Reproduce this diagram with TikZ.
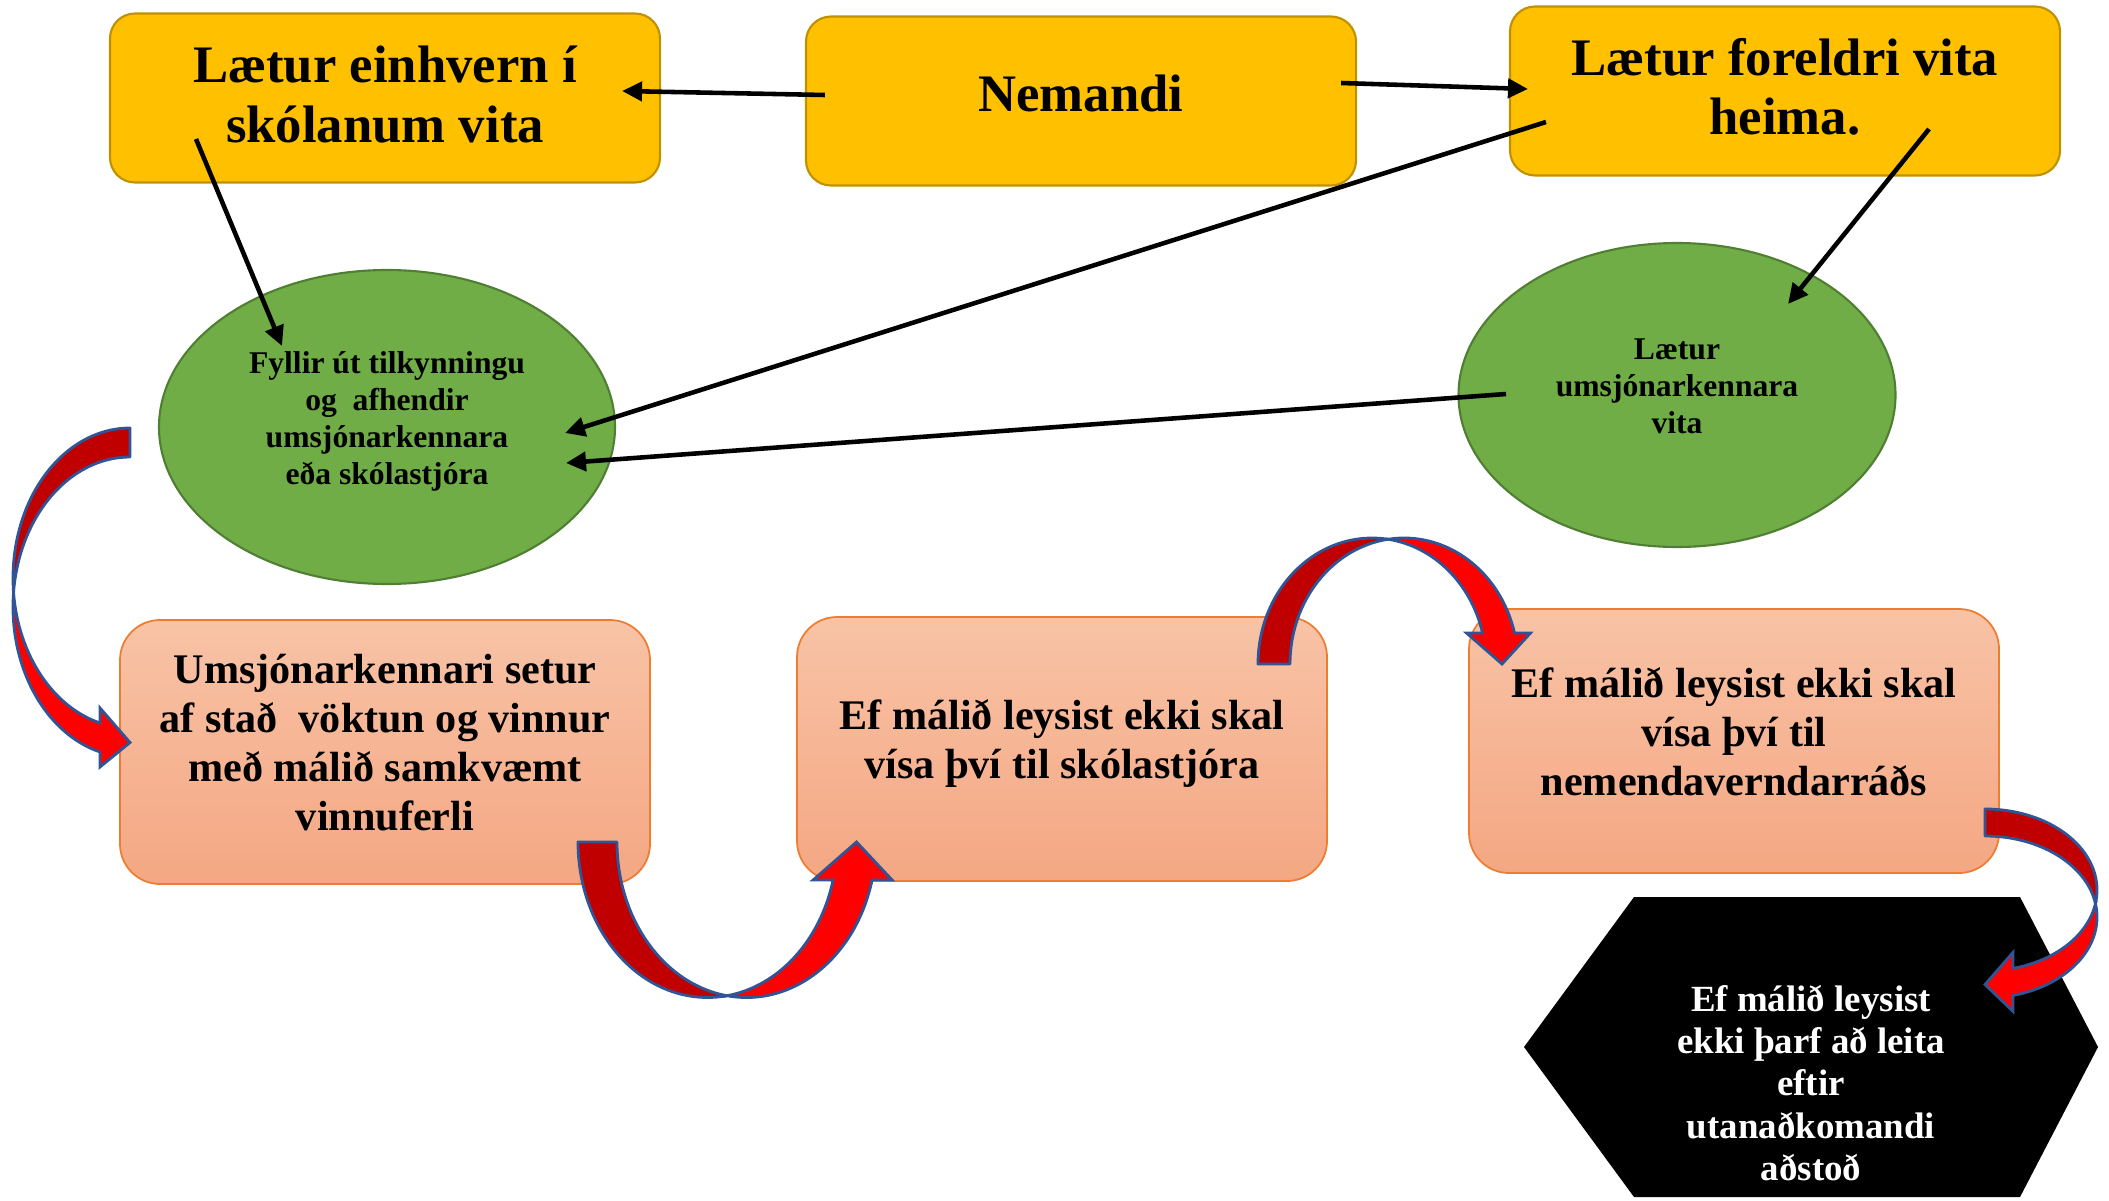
\documentclass[tikz,border=0pt]{standalone}
\usepackage{fontspec}
\setmainfont{Liberation Serif}
\usetikzlibrary{arrows.meta, shapes.geometric}

\definecolor{boxyellow}{HTML}{FFC000}
\definecolor{boxgold}{HTML}{BF9000}
\definecolor{leafgreen}{HTML}{70AD47}
\definecolor{darkgreen}{HTML}{507E32}
\definecolor{salmontop}{HTML}{F8C3A6}
\definecolor{salmonbot}{HTML}{F4A783}
\definecolor{salmonline}{HTML}{ED7D31}
\definecolor{tailred}{HTML}{C00000}
\definecolor{headred}{HTML}{FF0000}
\definecolor{arrowblue}{HTML}{2F5597}

\tikzset{
  yellowbox/.style={draw=boxgold, line width=0.6pt, fill=boxyellow, rounded corners=2.5mm,
    minimum width=55mm, minimum height=16.9mm, align=center, text depth=2pt,
    font=\fontsize{15}{17}\selectfont\bfseries},
  greenoval/.style={ellipse, draw=darkgreen, line width=0.6pt, fill=leafgreen, inner sep=0pt,
    align=center, text depth=5pt, font=\fontsize{9}{10.5}\selectfont\bfseries},
  salmonbox/.style={draw=salmonline, line width=0.5pt, top color=salmontop, bottom color=salmonbot,
    rounded corners=4mm, minimum width=53mm, minimum height=26.4mm, align=center, text depth=5.5pt,
    font=\fontsize{12}{14}\selectfont\bfseries},
  link/.style={-{Triangle[length=2mm,width=1.9mm]}, line width=1.3pt},
  tailpart/.style={fill=tailred, draw=arrowblue, line width=0.8pt, line join=round},
  headpart/.style={fill=headred, draw=arrowblue, line width=0.8pt},
}

% #1 depth radius, #2 radius along the offset, #3 band width, #4 head base, #5 barb
\newcommand{\bentarrow}[5]{%
  \pgfmathsetmacro\bdelta{asin(#3/(2*#2))}%
  \pgfmathsetmacro\bangle{acos(-#4/#1)}%
  \pgfmathsetmacro\byone{#2*sin(\bangle)}%
  \pgfmathsetmacro\bytwo{#3+\byone}%
  \pgfmathsetmacro\bxcross{-#1*cos(\bdelta)}%
  \filldraw[tailpart] (0,-#2) arc[start angle=270, end angle=180-\bdelta, x radius=#1, y radius=#2]
    arc[start angle=180+\bdelta, end angle=270, x radius=#1, y radius=#2] -- cycle;
  \filldraw[headpart] (\bxcross,#3/2) arc[start angle=180+\bdelta, end angle=\bangle, x radius=#1, y radius=#2]
    -- (-#4,\bytwo+#5) -- (0,#2+#3/2) -- (-#4,\byone-#5) -- (-#4,\byone)
    arc[start angle=\bangle, end angle=180-\bdelta, x radius=#1, y radius=#2] -- cycle;
}

\begin{document}
\begin{tikzpicture}[x=0.1mm, y=-0.1mm]
\useasboundingbox (0,0) rectangle (2109,1200);
\node[yellowbox] (skoli) at (385,98) {Lætur einhvern í\\skólanum vita};
\node[yellowbox, text depth=4.5pt] (nem) at (1081,101) {Nemandi};
\node[yellowbox, text depth=2.6pt] (heima) at (1785,91) {Lætur foreldri vita\\heima.};
\node[greenoval, minimum width=45.6mm, minimum height=31.4mm] (fyllir) at (387,427)
  {Fyllir út tilkynningu\\og\ \ afhendir\\umsjónarkennara\\eða skólastjóra};
\node[greenoval, minimum width=43.7mm, minimum height=30.4mm] (umsj) at (1677,395)
  {Lætur\\umsjónarkennara\\vita};
\node[salmonbox] (vinna) at (385,752) {Umsjónarkennari setur\\af stað\ \ vöktun og vinnur\\með málið samkvæmt\\vinnuferli};
\node[salmonbox] (stjori) at (1062,749) {Ef málið leysist ekki skal\\vísa því til skólastjóra};
\node[salmonbox] (radid) at (1734,741) {Ef málið leysist ekki skal\\vísa því til\\nemendaverndarráðs};
\fill (1634,897) -- (2020,897) -- (2098,1047) -- (2020,1197) -- (1634,1197) -- (1524,1047) -- cycle;
\node[align=center, text=white, font=\fontsize{10.5}{12}\selectfont\bfseries] (utan) at (1811,1083)
  {Ef málið leysist\\ekki þarf að leita\\eftir\\utanaðkomandi\\aðstoð};

\draw[link] ([shift={(20,-6)}]nem.west) -- ([shift={(-39,-7)}]skoli.east);
\draw[link] ([shift={(-16,-18)}]nem.east) -- ([shift={(19,-2)}]heima.west);
\draw[link] ([shift={(-189,41)}]skoli.center) -- ([shift={(-105,-81)}]fyllir.center);
\draw[link] ([shift={(37,31)}]heima.west) -- ([shift={(178,6)}]fyllir.center);
\draw[link] ([shift={(144,38)}]heima.center) -- ([shift={(111,-91)}]umsj.center);
\draw[link] ([shift={(-171,-1)}]umsj.center) -- ([shift={(179,36)}]fyllir.center);

\begin{scope}[shift={(130,578)}]
  \bentarrow{117}{150}{29}{30}{15}
\end{scope}
\begin{scope}[shift={(707.5,842)}, rotate=90]
  \bentarrow{155.5}{129.5}{39}{38}{20}
\end{scope}
\begin{scope}[shift={(1372,664)}, yscale=-1, rotate=90]
  \bentarrow{126}{114}{32}{31}{16}
\end{scope}
\begin{scope}[shift={(1985,890)}, xscale=-1]
  \bentarrow{112}{81}{27}{28}{16}
\end{scope}
\end{tikzpicture}
\end{document}
